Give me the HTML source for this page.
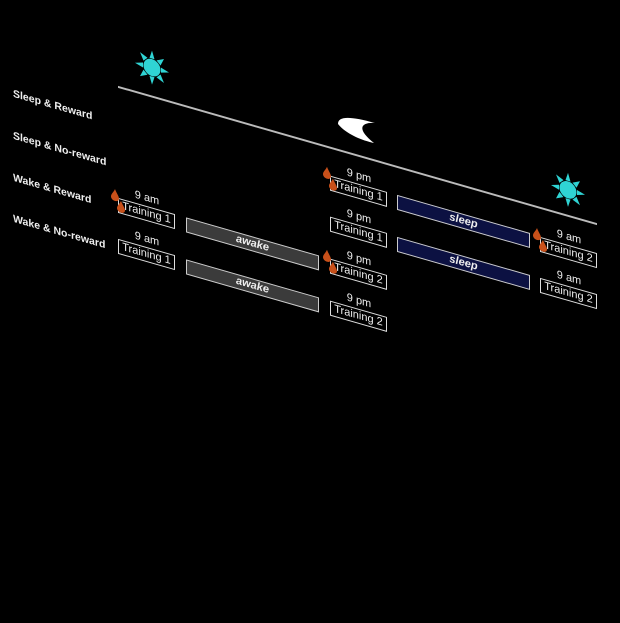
<!DOCTYPE html>
<html><head><meta charset="utf-8"><style>
html,body{margin:0;padding:0;background:#000;width:620px;height:445px;overflow:hidden}
#c{position:absolute;left:0;top:0;width:620px;height:445px;transform:skewY(16deg);transform-origin:0 0;font-family:"Liberation Sans",sans-serif;color:#eee}
.lab{position:absolute;left:13px;font-weight:bold;font-size:10.5px;white-space:nowrap}
.box{position:absolute;width:55px;height:13px;border:1.5px solid #ddd;font-size:11px;line-height:13px;text-align:center;color:#eee;white-space:nowrap}
.t{position:absolute;font-size:11px;width:58px;text-align:center;color:#eee}
.bar{position:absolute;width:131px;height:13px;border:1.5px solid #ccc;font-size:11px;line-height:13px;text-align:center;font-weight:bold;font-style:italic;color:#eee}
.aw{background:#3b3b3b}.sl{background:#0c1142}
.drop{position:absolute;width:8px;height:12px}
.line{position:absolute;left:118px;width:479px;top:52px;height:2px;background:#bbb}
</style></head><body>
<svg width="0" height="0" style="position:absolute"><defs>
<symbol id="d" viewBox="0 0 8 12"><path d="M4,0 C5,3 8,6 8,8.5 C8,10.5 6.2,12 4,12 C1.8,12 0,10.5 0,8.5 C0,6 3,3 4,0Z" fill="#c8501a"/></symbol>
<symbol id="s" viewBox="-18 -18 36 36"><g fill="#2fd4d4"><circle r="8.5"/>
<polygon points="0,-17 2.5,-9 -2.5,-9"/><polygon points="0,17 2.5,9 -2.5,9"/><polygon points="-17,0 -9,2.5 -9,-2.5"/><polygon points="17,0 9,2.5 9,-2.5"/>
<polygon points="12,-12 4.5,-8.5 8.5,-4.5"/><polygon points="-12,-12 -4.5,-8.5 -8.5,-4.5"/><polygon points="12,12 4.5,8.5 8.5,4.5"/><polygon points="-12,12 -4.5,8.5 -8.5,4.5"/></g></symbol>
</defs></svg>
<svg style="position:absolute;left:0;top:0" width="620" height="445"><path d="M338,124 C338,116 350,116 375,123 C362,122 355,128 374,143 C360,140 345,133 338,124Z" fill="#fff"/></svg>
<div id="c">
<div class="lab" style="top:84px">Sleep &amp; Reward</div>
<div class="lab" style="top:126px">Sleep &amp; No-reward</div>
<div class="lab" style="top:168px">Wake &amp; Reward</div>
<div class="lab" style="top:209px">Wake &amp; No-reward</div>
<div class="line"></div>

<svg style="position:absolute;left:134px;top:6px" width="36" height="36"><use href="#s"/></svg>
<svg style="position:absolute;left:550px;top:9px" width="36" height="36"><use href="#s"/></svg>

<!-- row A y=164 -->
<div class="t" style="left:118px;top:150px">9 am</div>
<div class="box" style="left:118px;top:164px">Training 1</div>
<svg class="drop" style="left:111px;top:156px"><use href="#d"/></svg><svg class="drop" style="left:117px;top:166px"><use href="#d"/></svg>
<div class="bar aw" style="left:186px;top:164px">awake</div>
<div class="t" style="left:330px;top:150px">9 pm</div>
<div class="box" style="left:330px;top:164px">Training 2</div>
<svg class="drop" style="left:323px;top:156px"><use href="#d"/></svg><svg class="drop" style="left:329px;top:166px"><use href="#d"/></svg>
<!-- row B y=205 -->
<div class="t" style="left:118px;top:191px">9 am</div>
<div class="box" style="left:118px;top:205px">Training 1</div>
<div class="bar aw" style="left:186px;top:206px">awake</div>
<div class="t" style="left:330px;top:192px">9 pm</div>
<div class="box" style="left:330px;top:206px">Training 2</div>
<!-- row C y=81 -->
<div class="t" style="left:330px;top:67px">9 pm</div>
<div class="box" style="left:330px;top:81px">Training 1</div>
<svg class="drop" style="left:323px;top:73px"><use href="#d"/></svg><svg class="drop" style="left:329px;top:83px"><use href="#d"/></svg>
<div class="bar sl" style="left:397px;top:81px">sleep</div>
<div class="t" style="left:540px;top:68px">9 am</div>
<div class="box" style="left:540px;top:82px">Training 2</div>
<svg class="drop" style="left:533px;top:74px"><use href="#d"/></svg><svg class="drop" style="left:539px;top:84px"><use href="#d"/></svg>
<!-- row D y=123 -->
<div class="t" style="left:330px;top:108px">9 pm</div>
<div class="box" style="left:330px;top:122px">Training 1</div>
<div class="bar sl" style="left:397px;top:123px">sleep</div>
<div class="t" style="left:540px;top:109px">9 am</div>
<div class="box" style="left:540px;top:123px">Training 2</div>
</div></body></html>
